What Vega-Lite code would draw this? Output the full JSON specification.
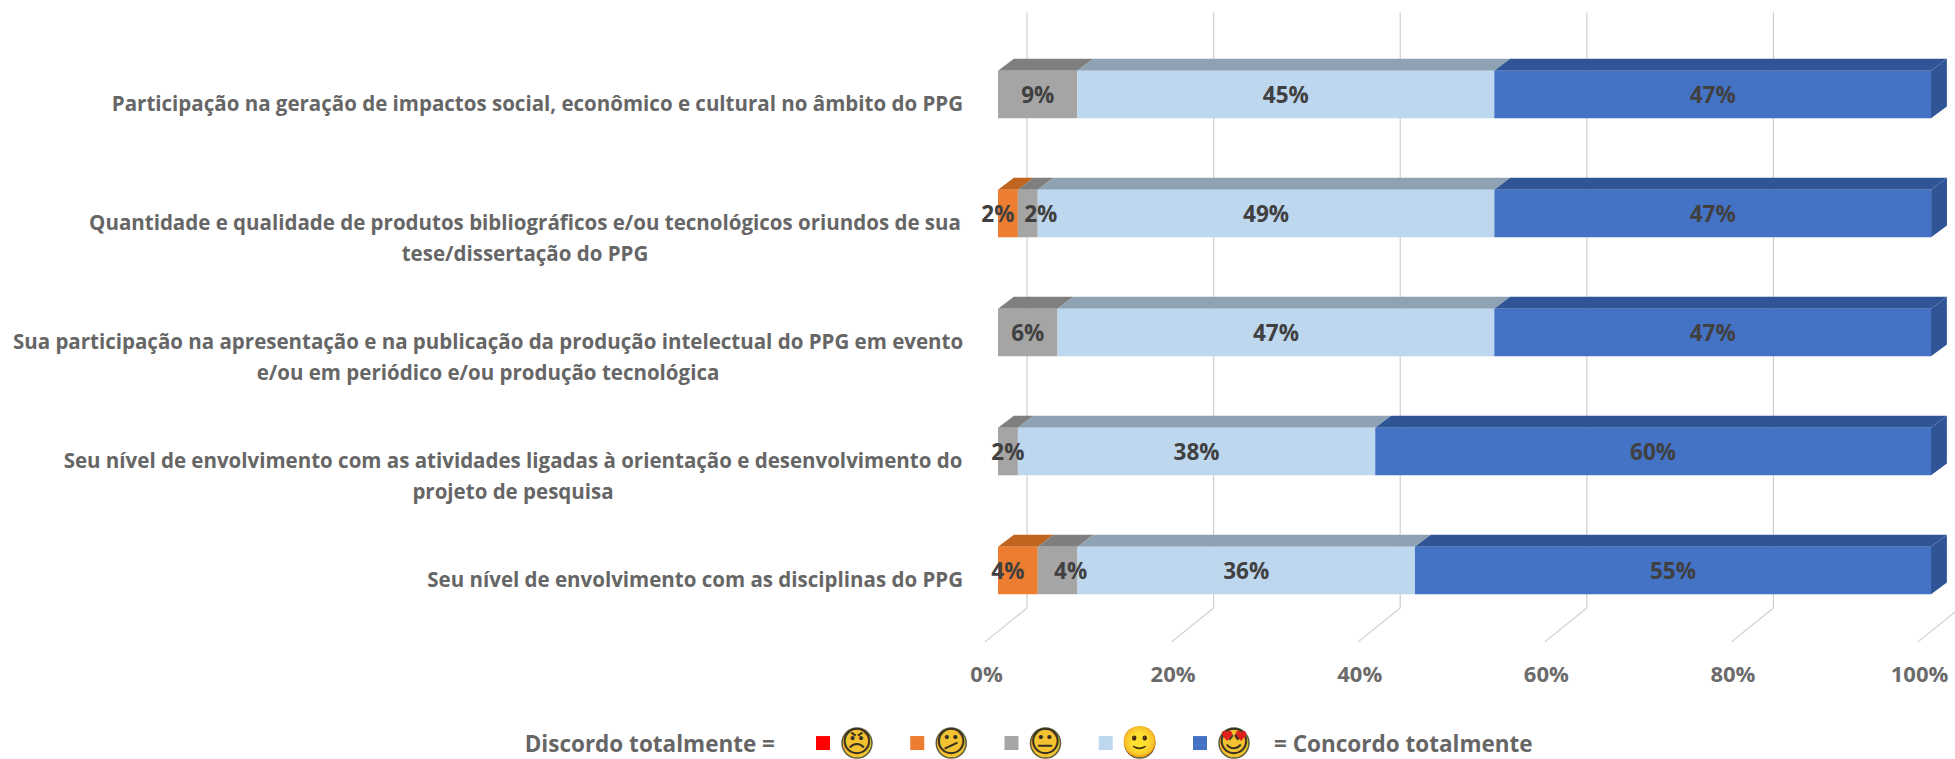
{
"$schema":"https://vega.github.io/schema/vega-lite/v6.json",
"autosize":"none","width":957,"height":759,
"padding":{"left":998,"right":0,"top":0,"bottom":0},
"background":"white",
"config":{"view":{"stroke":null},"text":{"font":"Open Sans"}},
"datasets":{
"bars":[
{"row":0,"s":2,"seg":"Neutro","pct":8.51},{"row":0,"s":3,"seg":"Concordo","pct":44.68},{"row":0,"s":4,"seg":"Concordo totalmente","pct":46.81},
{"row":1,"s":1,"seg":"Discordo","pct":2.13},{"row":1,"s":2,"seg":"Neutro","pct":2.13},{"row":1,"s":3,"seg":"Concordo","pct":48.94},{"row":1,"s":4,"seg":"Concordo totalmente","pct":46.81},
{"row":2,"s":2,"seg":"Neutro","pct":6.38},{"row":2,"s":3,"seg":"Concordo","pct":46.81},{"row":2,"s":4,"seg":"Concordo totalmente","pct":46.81},
{"row":3,"s":2,"seg":"Neutro","pct":2.13},{"row":3,"s":3,"seg":"Concordo","pct":38.3},{"row":3,"s":4,"seg":"Concordo totalmente","pct":59.57},
{"row":4,"s":1,"seg":"Discordo","pct":4.26},{"row":4,"s":2,"seg":"Neutro","pct":4.26},{"row":4,"s":3,"seg":"Concordo","pct":36.17},{"row":4,"s":4,"seg":"Concordo totalmente","pct":55.31}
],
"rows":[
{"row":0,"label":"Participação na geração de impactos social, econômico e cultural no âmbito do PPG"},
{"row":1,"label":"Quantidade e qualidade de produtos bibliográficos e/ou tecnológicos oriundos de sua|tese/dissertação do PPG"},
{"row":2,"label":"Sua participação na apresentação e na publicação da produção intelectual do PPG em evento|e/ou em periódico e/ou produção tecnológica"},
{"row":3,"label":"Seu nível de envolvimento com as atividades ligadas à orientação e desenvolvimento do|projeto de pesquisa"},
{"row":4,"label":"Seu nível de envolvimento com as disciplinas do PPG"}
],
"ticks":[{"tick":0},{"tick":20},{"tick":40},{"tick":60},{"tick":80},{"tick":100}],
"legend":[
{"seg":"Discordo totalmente","face":"😠"},{"seg":"Discordo","face":"😕"},{"seg":"Neutro","face":"😐"},{"seg":"Concordo","face":"🙂"},{"seg":"Concordo totalmente","face":"😍"}
]
},
"resolve":{"scale":{"x":"independent","color":"independent"}},
"layer":[
{
"resolve":{"scale":{"color":"independent"}},
"layer":[
{"data":{"name":"ticks"},"mark":{"type":"rule","color":"#cfcfcf","strokeWidth":1.2,"xOffset":29},
 "encoding":{"x":{"field":"tick","type":"quantitative","scale":{"domain":[0,102.57],"nice":false,"zero":false},
   "axis":{"values":[0,20,40,60,80,100],"labelExpr":"datum.value+'%'","domain":false,"ticks":false,"grid":false,"title":null,"offset":-95,"labelPadding":0,"labelOffset":-12,"labelFont":"Open Sans","labelFontWeight":"bold","labelFontSize":22,"labelColor":"#6b6b6b","labelFlush":false,"labelOverlap":false,"labelBound":false,"orient":"bottom"}},
  "y":{"datum":-0.69,"type":"quantitative","axis":null,"scale":{"domain":[-0.794,5.584],"reverse":true,"nice":false,"zero":false}},
  "y2":{"datum":4.315}}},
{"data":{"name":"ticks"},"mark":{"type":"rule","color":"#cfcfcf","strokeWidth":1.2,"xOffset":29,"x2Offset":-13},
 "encoding":{"x":{"field":"tick","type":"quantitative"},"x2":{"field":"tick"},"y":{"datum":4.315,"type":"quantitative"},"y2":{"datum":4.6}}},
{"data":{"name":"rows"},"transform":[{"filter":"datum.row==0||datum.row==4"}],"mark":{"type":"text","align":"right","dx":-35,"dy":11,"fontWeight":"bold","fontSize":20.5,"color":"#666666"},
 "encoding":{"x":{"datum":0,"type":"quantitative"},"y":{"field":"row","type":"quantitative"},"text":{"field":"label"}}},
{"data":{"name":"rows"},"transform":[{"filter":"datum.row==1"}],"mark":{"type":"text","align":"center","dx":-473,"dy":11,"lineBreak":"|","lineHeight":31,"fontWeight":"bold","fontSize":20.5,"color":"#666666"},
 "encoding":{"x":{"datum":0,"type":"quantitative"},"y":{"field":"row","type":"quantitative"},"text":{"field":"label"}}},
{"data":{"name":"rows"},"transform":[{"filter":"datum.row==2"}],"mark":{"type":"text","align":"center","dx":-510,"dy":11,"lineBreak":"|","lineHeight":31,"fontWeight":"bold","fontSize":20.5,"color":"#666666"},
 "encoding":{"x":{"datum":0,"type":"quantitative"},"y":{"field":"row","type":"quantitative"},"text":{"field":"label"}}},
{"data":{"name":"rows"},"transform":[{"filter":"datum.row==3"}],"mark":{"type":"text","align":"center","dx":-485,"dy":11,"lineBreak":"|","lineHeight":31,"fontWeight":"bold","fontSize":20.5,"color":"#666666"},
 "encoding":{"x":{"datum":0,"type":"quantitative"},"y":{"field":"row","type":"quantitative"},"text":{"field":"label"}}},
{"data":{"name":"bars"},
 "transform":[{"stack":"pct","groupby":["row"],"sort":[{"field":"s","order":"ascending"}],"as":["start","end"]},
  {"calculate":"[0,1]","as":"d"},{"flatten":["d"]},
  {"calculate":"datum.start+1.7*datum.d","as":"xa"},{"calculate":"datum.end+1.7*datum.d","as":"xb"},{"calculate":"datum.row-0.2-0.1*datum.d","as":"ya"}],
 "mark":{"type":"area","orient":"horizontal"},
 "encoding":{"y":{"field":"ya","type":"quantitative"},"x":{"field":"xa","type":"quantitative"},"x2":{"field":"xb"},
  "detail":[{"field":"row"},{"field":"s"}],
  "color":{"field":"seg","type":"nominal","legend":null,"scale":{"domain":["Discordo","Neutro","Concordo","Concordo totalmente"],"range":["#c0651f","#7f7f7f","#8fa2b3","#2f5597"]}}}},
{"data":{"name":"bars"},
 "transform":[{"stack":"pct","groupby":["row"],"sort":[{"field":"s","order":"ascending"}],"as":["start","end"]},
  {"filter":"datum.s==4"},{"calculate":"[0,1]","as":"d"},{"flatten":["d"]},
  {"calculate":"datum.end+1.7*datum.d","as":"xa"},{"calculate":"datum.row-0.2-0.1*datum.d","as":"ya"},{"calculate":"datum.row+0.2-0.1*datum.d","as":"yb"}],
 "mark":{"type":"area","orient":"vertical","color":"#2f5597"},
 "encoding":{"x":{"field":"xa","type":"quantitative"},"y":{"field":"ya","type":"quantitative"},"y2":{"field":"yb"},"detail":{"field":"row"}}},
{"data":{"name":"bars"},
 "transform":[{"stack":"pct","groupby":["row"],"sort":[{"field":"s","order":"ascending"}],"as":["start","end"]},
  {"calculate":"datum.row-0.2","as":"ya"},{"calculate":"datum.row+0.2","as":"yb"}],
 "mark":{"type":"rect"},
 "encoding":{"x":{"field":"start","type":"quantitative"},"x2":{"field":"end"},"y":{"field":"ya","type":"quantitative"},"y2":{"field":"yb"},
  "color":{"field":"seg","type":"nominal","legend":null,"scale":{"domain":["Discordo","Neutro","Concordo","Concordo totalmente"],"range":["#ed7d31","#a5a5a5","#bdd7ee","#4472c4"]}}}},
{"data":{"name":"bars"},
 "transform":[{"stack":"pct","groupby":["row"],"sort":[{"field":"s","order":"ascending"}],"as":["start","end"]},
  {"calculate":"(datum.start+datum.end)/2","as":"mid"},{"calculate":"format(datum.pct/100,'.0%')","as":"txt"},
  {"filter":"!((datum.row==1||datum.row==4)&&datum.s<3)"}],
 "mark":{"type":"text","fontWeight":"bold","fontSize":22.5,"color":"#404040","dy":2},
 "encoding":{"x":{"field":"mid","type":"quantitative"},"y":{"field":"row","type":"quantitative"},"text":{"field":"txt"}}},
{"data":{"name":"bars"},
 "transform":[{"stack":"pct","groupby":["row"],"sort":[{"field":"s","order":"ascending"}],"as":["start","end"]},
  {"calculate":"(datum.start+datum.end)/2","as":"mid"},{"calculate":"format(datum.pct/100,'.0%')","as":"txt"},
  {"filter":"(datum.row==1||datum.row==4)&&datum.s==1"}],
 "mark":{"type":"text","fontWeight":"bold","fontSize":22.5,"color":"#404040","dy":2,"dx":-10},
 "encoding":{"x":{"field":"mid","type":"quantitative"},"y":{"field":"row","type":"quantitative"},"text":{"field":"txt"}}},
{"data":{"name":"bars"},
 "transform":[{"stack":"pct","groupby":["row"],"sort":[{"field":"s","order":"ascending"}],"as":["start","end"]},
  {"calculate":"(datum.start+datum.end)/2","as":"mid"},{"calculate":"format(datum.pct/100,'.0%')","as":"txt"},
  {"filter":"(datum.row==1||datum.row==4)&&datum.s==2"}],
 "mark":{"type":"text","fontWeight":"bold","fontSize":22.5,"color":"#404040","dy":2,"dx":13},
 "encoding":{"x":{"field":"mid","type":"quantitative"},"y":{"field":"row","type":"quantitative"},"text":{"field":"txt"}}}
]},
{
"data":{"name":"legend"},
"layer":[
{"mark":{"type":"point","shape":"square","filled":true,"size":196,"opacity":1},
 "encoding":{"x":{"field":"seg","type":"nominal","axis":null,"sort":null,"scale":{"type":"point","padding":0,"domain":["Discordo totalmente","Discordo","Neutro","Concordo","Concordo totalmente"],"range":[-175,202]}},
  "y":{"datum":5.45,"type":"quantitative"},
  "color":{"field":"seg","type":"nominal","legend":null,"scale":{"domain":["Discordo totalmente","Discordo","Neutro","Concordo","Concordo totalmente"],"range":["#ff0000","#ed7d31","#a5a5a5","#bdd7ee","#4472c4"]}}}},
{"mark":{"type":"point","shape":"circle","filled":true,"size":900,"opacity":1,"xOffset":34,"fill":"#f2c230","stroke":"#5c5c3c","strokeWidth":1.5},
 "encoding":{"x":{"field":"seg","type":"nominal"},"y":{"datum":5.45,"type":"quantitative"}}},
{"mark":{"type":"text","font":"DejaVu Sans","fontSize":30,"dx":34,"color":"#3a3020","baseline":"middle"},
 "encoding":{"x":{"field":"seg","type":"nominal"},"y":{"datum":5.45,"type":"quantitative"},"text":{"field":"face"}}},
{"transform":[{"filter":"datum.seg=='Concordo totalmente'"}],"mark":{"type":"text","font":"DejaVu Sans","fontSize":14,"dx":27,"dy":-6,"color":"#e0201c"},
 "encoding":{"x":{"field":"seg","type":"nominal"},"y":{"datum":5.45,"type":"quantitative"},"text":{"value":"♥"}}},
{"transform":[{"filter":"datum.seg=='Concordo totalmente'"}],"mark":{"type":"text","font":"DejaVu Sans","fontSize":14,"dx":41,"dy":-6,"color":"#e0201c"},
 "encoding":{"x":{"field":"seg","type":"nominal"},"y":{"datum":5.45,"type":"quantitative"},"text":{"value":"♥"}}},
{"transform":[{"filter":"datum.seg=='Discordo totalmente'"}],"mark":{"type":"text","align":"right","dx":-48,"dy":2,"fontWeight":"bold","fontSize":22.5,"color":"#666666"},
 "encoding":{"x":{"field":"seg","type":"nominal"},"y":{"datum":5.45,"type":"quantitative"},"text":{"value":"Discordo totalmente ="}}},
{"transform":[{"filter":"datum.seg=='Concordo totalmente'"}],"mark":{"type":"text","align":"left","dx":74,"dy":2,"fontWeight":"bold","fontSize":22.5,"color":"#666666"},
 "encoding":{"x":{"field":"seg","type":"nominal"},"y":{"datum":5.45,"type":"quantitative"},"text":{"value":"= Concordo totalmente"}}}
]}
]}
